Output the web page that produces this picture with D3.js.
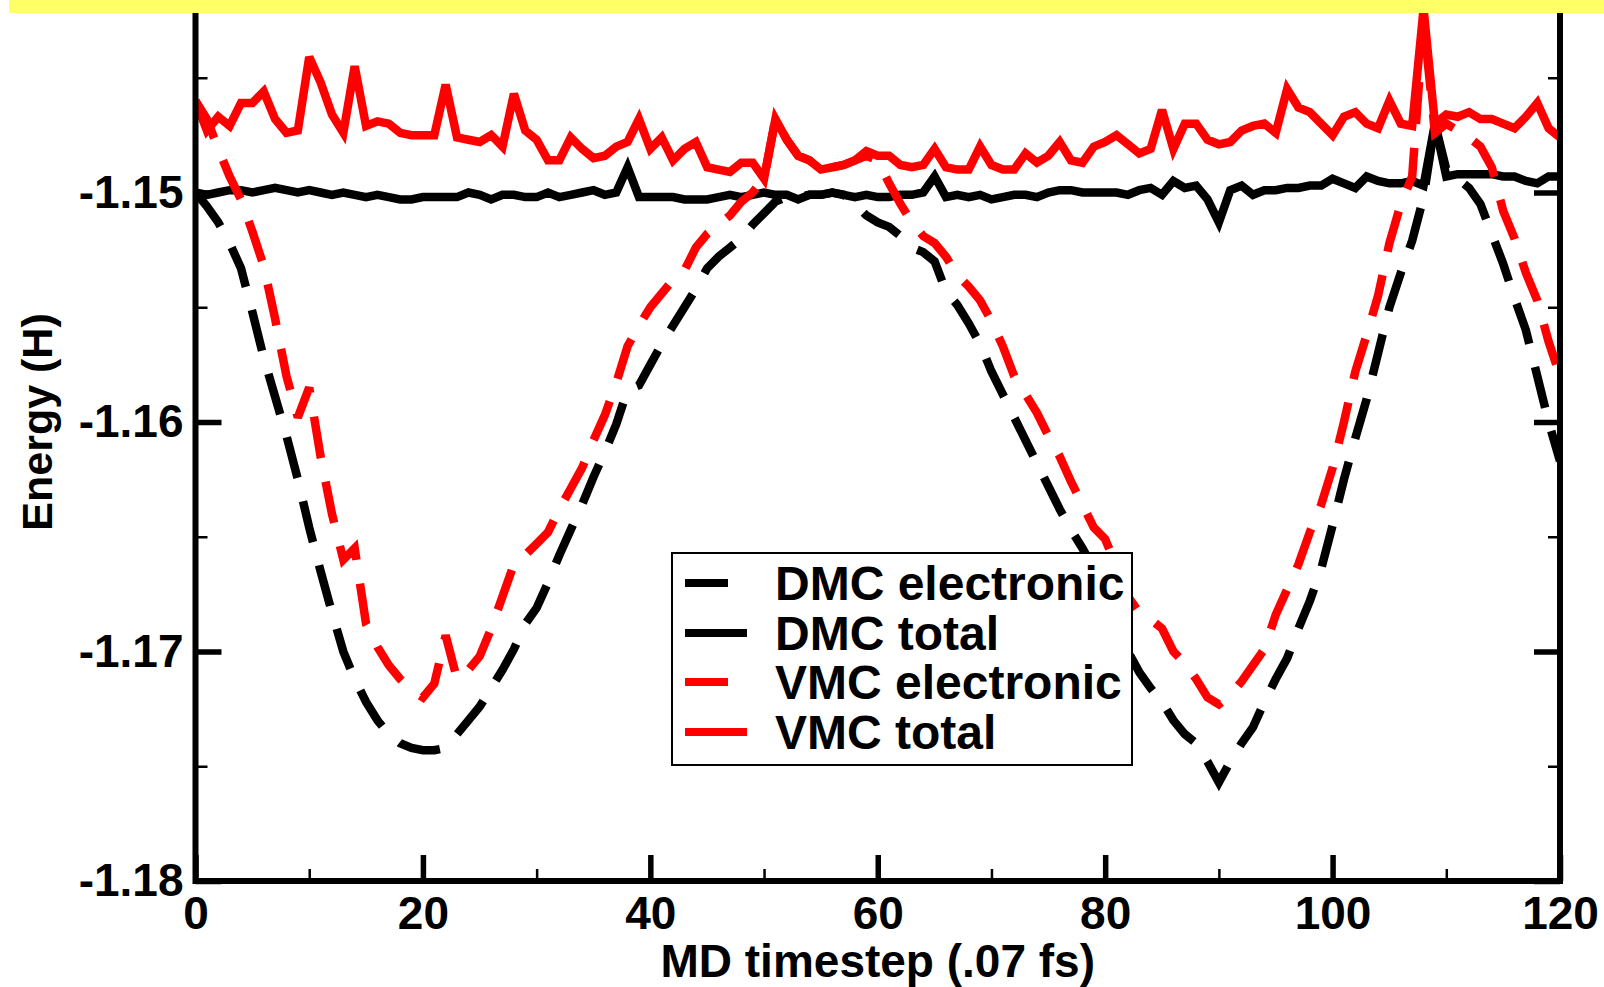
<!DOCTYPE html>
<html>
<head>
<meta charset="utf-8">
<script src="https://cdn.jsdelivr.net/npm/d3@7"></script>
<style>
  html, body { margin: 0; padding: 0; background: #ffffff; }
  svg { display: block; }
  text { font-family: "Liberation Sans", Arial, Helvetica, sans-serif; font-weight: bold; fill: #000; }
</style>
</head>
<body>
<svg id="chart" width="1604" height="987"></svg>
<script>
// MD timesteps (units of .07 fs)
const steps = d3.range(0, 121);

// Energies in Hartree, one value per timestep
const dmcElectronic = [
  -1.1500, -1.1506, -1.1513, -1.1522, -1.1533, -1.1552, -1.1572, -1.1589, -1.1606, -1.1625,
  -1.1646, -1.1665, -1.1683, -1.1700, -1.1712, -1.1722, -1.1730, -1.1736, -1.1740, -1.1742,
  -1.1743, -1.1743, -1.1742, -1.1736, -1.1730, -1.1724, -1.1716, -1.1708, -1.1699, -1.1688,
  -1.1681, -1.1670, -1.1658, -1.1647, -1.1636, -1.1624, -1.1613, -1.1601, -1.1586, -1.1584,
  -1.1575, -1.1566, -1.1558, -1.1550, -1.1542, -1.1533, -1.1528, -1.1524, -1.1520, -1.1514,
  -1.1509, -1.1504, -1.1502, -1.1502, -1.1501, -1.1501, -1.1500, -1.1501, -1.1505, -1.1510,
  -1.1513, -1.1515, -1.1519, -1.1524, -1.1526, -1.1530, -1.1543, -1.1549, -1.1557, -1.1566,
  -1.1578, -1.1588, -1.1598, -1.1608, -1.1618, -1.1628, -1.1638, -1.1647, -1.1655, -1.1664,
  -1.1676, -1.1688, -1.1700, -1.1709, -1.1716, -1.1722, -1.1730, -1.1736, -1.1740, -1.1748,
  -1.1757, -1.1748, -1.1740, -1.1733, -1.1722, -1.1712, -1.1703, -1.1690, -1.1678, -1.1664,
  -1.1645, -1.1625, -1.1607, -1.1590, -1.1570, -1.1550, -1.1535, -1.1521, -1.1502, -1.1470,
  -1.1490, -1.1494, -1.1498, -1.1505, -1.1518, -1.1531, -1.1546, -1.1560, -1.1580, -1.1600,
  -1.1617
];

const dmcTotal = [
  -1.1500, -1.1501, -1.1500, -1.1499, -1.1499, -1.1500, -1.1499, -1.1498, -1.1499, -1.1500,
  -1.1499, -1.1500, -1.1501, -1.1500, -1.1501, -1.1502, -1.1501, -1.1502, -1.1503, -1.1503,
  -1.1502, -1.1502, -1.1502, -1.1502, -1.1500, -1.1501, -1.1503, -1.1501, -1.1501, -1.1502,
  -1.1502, -1.1500, -1.1502, -1.1501, -1.1500, -1.1499, -1.1501, -1.1500, -1.1489, -1.1502,
  -1.1502, -1.1502, -1.1502, -1.1503, -1.1503, -1.1503, -1.1502, -1.1501, -1.1502, -1.1501,
  -1.1500, -1.1501, -1.1501, -1.1503, -1.1501, -1.1501, -1.1500, -1.1501, -1.1502, -1.1501,
  -1.1502, -1.1502, -1.1501, -1.1501, -1.1500, -1.1493, -1.1502, -1.1501, -1.1502, -1.1501,
  -1.1503, -1.1502, -1.1501, -1.1501, -1.1502, -1.1500, -1.1499, -1.1499, -1.1500, -1.1500,
  -1.1500, -1.1500, -1.1501, -1.1499, -1.1498, -1.1501, -1.1495, -1.1498, -1.1497, -1.1503,
  -1.1513, -1.1499, -1.1497, -1.1501, -1.1499, -1.1499, -1.1498, -1.1498, -1.1497, -1.1497,
  -1.1494, -1.1496, -1.1498, -1.1493, -1.1495, -1.1496, -1.1496, -1.1495, -1.1497, -1.1470,
  -1.1493, -1.1492, -1.1492, -1.1492, -1.1492, -1.1493, -1.1493, -1.1495, -1.1496, -1.1493,
  -1.1493
];

const vmcElectronic = [
  -1.1460, -1.1468, -1.1481, -1.1493, -1.1503, -1.1517, -1.1532, -1.1555, -1.1580, -1.1598,
  -1.1585, -1.1615, -1.1640, -1.1660, -1.1655, -1.1688, -1.1698, -1.1706, -1.1712, -1.1717,
  -1.1720, -1.1714, -1.1693, -1.1712, -1.1708, -1.1702, -1.1690, -1.1676, -1.1662, -1.1658,
  -1.1653, -1.1648, -1.1638, -1.1629, -1.1620, -1.1608, -1.1597, -1.1583, -1.1567, -1.1558,
  -1.1550, -1.1544, -1.1538, -1.1534, -1.1524, -1.1518, -1.1514, -1.1510, -1.1504, -1.1500,
  -1.1494, -1.1468, -1.1477, -1.1484, -1.1486, -1.1490, -1.1489, -1.1488, -1.1486, -1.1484,
  -1.1486, -1.1496, -1.1505, -1.1513, -1.1519, -1.1522, -1.1528, -1.1536, -1.1541, -1.1547,
  -1.1556, -1.1567, -1.1580, -1.1588, -1.1596, -1.1606, -1.1615, -1.1626, -1.1636, -1.1646,
  -1.1651, -1.1663, -1.1676, -1.1683, -1.1686, -1.1690, -1.1700, -1.1705, -1.1712, -1.1720,
  -1.1723, -1.1719, -1.1713, -1.1706, -1.1699, -1.1684, -1.1673, -1.1662, -1.1648, -1.1636,
  -1.1620, -1.1600, -1.1578, -1.1562, -1.1545, -1.1522, -1.1505, -1.1493, -1.1425, -1.1474,
  -1.1470, -1.1473, -1.1476, -1.1480, -1.1489, -1.1508, -1.1520, -1.1535, -1.1547, -1.1565,
  -1.1580
];

const vmcTotal = [
  -1.1460, -1.1473, -1.1467, -1.1471, -1.1461, -1.1461, -1.1456, -1.1468, -1.1474, -1.1473,
  -1.1441, -1.1452, -1.1466, -1.1474, -1.1445, -1.1471, -1.1469, -1.1470, -1.1474, -1.1475,
  -1.1475, -1.1475, -1.1453, -1.1476, -1.1477, -1.1478, -1.1475, -1.1480, -1.1457, -1.1473,
  -1.1477, -1.1486, -1.1486, -1.1476, -1.1481, -1.1485, -1.1484, -1.1480, -1.1478, -1.1468,
  -1.1481, -1.1476, -1.1486, -1.1481, -1.1478, -1.1489, -1.1490, -1.1491, -1.1487, -1.1487,
  -1.1494, -1.1468, -1.1477, -1.1484, -1.1486, -1.1490, -1.1489, -1.1488, -1.1486, -1.1482,
  -1.1484, -1.1484, -1.1488, -1.1489, -1.1488, -1.1481, -1.1489, -1.1490, -1.1490, -1.1480,
  -1.1488, -1.1490, -1.1490, -1.1483, -1.1487, -1.1484, -1.1478, -1.1486, -1.1487, -1.1480,
  -1.1478, -1.1475, -1.1479, -1.1483, -1.1481, -1.1464, -1.1481, -1.1470, -1.1470, -1.1477,
  -1.1479, -1.1478, -1.1473, -1.1471, -1.1470, -1.1474, -1.1455, -1.1463, -1.1465, -1.1470,
  -1.1475, -1.1467, -1.1465, -1.1470, -1.1472, -1.1460, -1.1470, -1.1471, -1.1420, -1.1470,
  -1.1466, -1.1467, -1.1465, -1.1468, -1.1468, -1.1470, -1.1472, -1.1467, -1.1461, -1.1472,
  -1.1476
];

const xMajorTicks = [0, 20, 40, 60, 80, 100, 120];
const xMinorTicks = [10, 30, 50, 70, 90, 110];
const yMajorTicks = [-1.18, -1.17, -1.16, -1.15];
const yMajorLabels = ["-1.18", "-1.17", "-1.16", "-1.15"];
const yMinorTicks = [-1.175, -1.165, -1.155, -1.145];

const seriesNames = ["DMC electronic", "DMC total", "VMC electronic", "VMC total"];
const seriesColors = ["#000000", "#000000", "#ff0000", "#ff0000"];
const seriesDashed = [true, false, true, false];
const seriesValues = [dmcElectronic, dmcTotal, vmcElectronic, vmcTotal];

// ---- layout ----
const svg = d3.select("#chart");
const left = 195.5, right = 1560, bottom = 881, unitY = 229.5;
const x = d3.scaleLinear().domain([0, 120]).range([left, right]);
const y = d3.scaleLinear().domain([-1.18, -1.14]).range([bottom, bottom - 4 * unitY]);

svg.append("rect").attr("width", 1604).attr("height", 987).attr("fill", "#ffffff");

svg.append("defs").append("clipPath").attr("id", "plotclip")
  .append("rect")
  .attr("x", left).attr("y", y(-1.14))
  .attr("width", right - left).attr("height", bottom - y(-1.14));

// ---- data lines ----
const line = d3.line()
  .x((d, i) => x(steps[i]))
  .y(d => y(d));

const lines = svg.append("g").attr("clip-path", "url(#plotclip)");
seriesValues.forEach((vals, k) => {
  lines.append("path")
    .datum(vals)
    .attr("d", line)
    .attr("fill", "none")
    .attr("stroke", seriesColors[k])
    .attr("stroke-width", 8.5)
    .attr("stroke-linejoin", "miter")
    .attr("stroke-miterlimit", 3)
    .attr("stroke-dasharray", seriesDashed[k] ? "42,24" : null);
});

// ---- axes ----
function styleAxis(g, width) {
  g.select(".domain").remove();
  g.selectAll(".tick line").attr("stroke", "#000").attr("stroke-width", width);
  g.selectAll(".tick text")
    .style("font-family", "'Liberation Sans', Arial, sans-serif")
    .style("font-weight", "bold")
    .style("font-size", "46px")
    .attr("fill", "#000");
}

// bottom: major ticks with labels, minor ticks without
svg.append("g").attr("transform", `translate(0,${bottom})`)
  .call(d3.axisBottom(x).tickValues(xMajorTicks).tickFormat(d3.format("d"))
    .tickSizeInner(-26).tickSizeOuter(0).tickPadding(15))
  .call(g => styleAxis(g, 5.5));
svg.append("g").attr("transform", `translate(0,${bottom})`)
  .call(d3.axisBottom(x).tickValues(xMinorTicks).tickFormat("")
    .tickSizeInner(-12).tickSizeOuter(0))
  .call(g => styleAxis(g, 2.5));

// left: major ticks with labels, minor ticks
svg.append("g").attr("transform", `translate(${left},0)`)
  .call(d3.axisLeft(y).tickValues(yMajorTicks)
    .tickFormat((d, i) => yMajorLabels[i])
    .tickSizeInner(-26).tickSizeOuter(0).tickPadding(12))
  .call(g => styleAxis(g, 5.5));
svg.append("g").attr("transform", `translate(${left},0)`)
  .call(d3.axisLeft(y).tickValues(yMinorTicks).tickFormat("")
    .tickSizeInner(-12).tickSizeOuter(0))
  .call(g => styleAxis(g, 2.5));

// right: mirrored ticks
svg.append("g").attr("transform", `translate(${right},0)`)
  .call(d3.axisRight(y).tickValues(yMajorTicks).tickFormat("")
    .tickSizeInner(-26).tickSizeOuter(0))
  .call(g => styleAxis(g, 5.5));
svg.append("g").attr("transform", `translate(${right},0)`)
  .call(d3.axisRight(y).tickValues(yMinorTicks).tickFormat("")
    .tickSizeInner(-12).tickSizeOuter(0))
  .call(g => styleAxis(g, 2.5));

// frame: left, bottom, right
svg.append("path")
  .attr("d", `M${left},${y(-1.14)}V${bottom}H${right}V${y(-1.14)}`)
  .attr("fill", "none").attr("stroke", "#000").attr("stroke-width", 6)
  .attr("stroke-linejoin", "miter");

// axis titles
svg.append("text")
  .attr("x", (left + right) / 2).attr("y", 977)
  .attr("text-anchor", "middle")
  .style("font-size", "46px")
  .text("MD timestep (.07 fs)");

svg.append("text")
  .attr("transform", `translate(52,${(y(-1.14) + bottom) / 2}) rotate(-90)`)
  .attr("text-anchor", "middle")
  .style("font-size", "43px")
  .text("Energy (H)");

// ---- legend ----
const legend = svg.append("g");
legend.append("rect")
  .attr("x", 672).attr("y", 553).attr("width", 460).attr("height", 212)
  .attr("fill", "#ffffff").attr("stroke", "#000").attr("stroke-width", 2);
const rowY = [583, 633, 682, 732];
seriesNames.forEach((name, k) => {
  legend.append("line")
    .attr("x1", 685).attr("x2", 747)
    .attr("y1", rowY[k]).attr("y2", rowY[k])
    .attr("stroke", seriesColors[k]).attr("stroke-width", 8)
    .attr("stroke-dasharray", seriesDashed[k] ? "43,40" : null);
  legend.append("text")
    .attr("x", 775).attr("y", rowY[k] + 17)
    .style("font-size", "48px")
    .text(name);
});

// highlight band across the top edge
svg.append("rect")
  .attr("x", 9).attr("y", 0).attr("width", 1595).attr("height", 13)
  .attr("fill", "#ffff66");
</script>
</body>
</html>
